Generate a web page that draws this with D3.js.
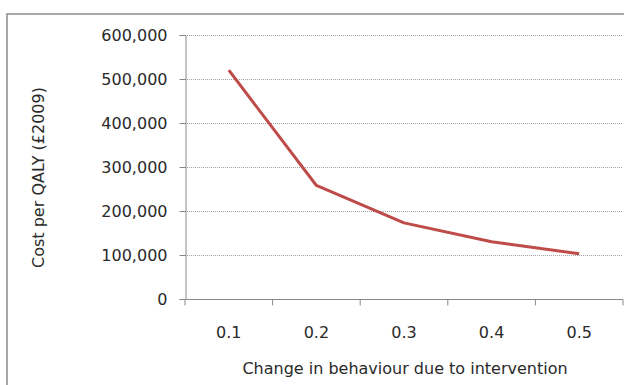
<!DOCTYPE html>
<html>
<head>
<meta charset="utf-8">
<script src="https://cdn.jsdelivr.net/npm/d3@7"></script>
<style>
  body { margin: 0; background: #fff; }
  svg text { font-family: "DejaVu Sans", sans-serif; fill: #2a2a2a; }
</style>
</head>
<body>
<div id="chart"></div>
<script>
const categories = ["0.1", "0.2", "0.3", "0.4", "0.5"];
const costPerQaly = [520000, 258000, 173000, 130000, 103000];
const yTicks = [0, 100000, 200000, 300000, 400000, 500000, 600000];

const width = 624, height = 385;
const plotLeft = 185, plotRight = 623, plotTop = 35, plotBottom = 299;
const fontSize = "16px";

const svg = d3.select("#chart").append("svg")
  .attr("width", width)
  .attr("height", height);

// outer frame
svg.append("rect")
  .attr("x", 7).attr("y", 14)
  .attr("width", 640).attr("height", 400)
  .attr("fill", "none")
  .attr("stroke", "#8c8c8c")
  .attr("stroke-width", 1.5);

const x = d3.scaleBand().domain(categories).range([plotLeft, plotRight]);
const y = d3.scaleLinear().domain([0, 600000]).range([plotBottom, plotTop]);

// gridlines
svg.append("g")
  .selectAll("line")
  .data(yTicks.filter(d => d > 0))
  .enter().append("line")
  .attr("x1", plotLeft).attr("x2", plotRight)
  .attr("y1", d => y(d) + 0.5).attr("y2", d => y(d) + 0.5)
  .attr("stroke", "#a0a0a0")
  .attr("stroke-dasharray", "1,1");

const yAxis = svg.append("g")
  .attr("transform", `translate(${plotLeft + 0.5},0)`)
  .call(d3.axisLeft(y).tickValues(yTicks).tickSize(6).tickPadding(12)
    .tickFormat(d3.format(",")));
yAxis.select(".domain").attr("stroke", "#888");
yAxis.selectAll(".tick line").attr("stroke", "#888");
yAxis.selectAll("text")
  .style("font-size", fontSize)
  .style("font-family", "DejaVu Sans")
  .attr("fill", "#2a2a2a");

// x axis: ticks at category boundaries
const xAxis = svg.append("g")
  .attr("transform", `translate(0,${plotBottom + 0.5})`);
xAxis.append("line")
  .attr("x1", plotLeft).attr("x2", plotRight)
  .attr("stroke", "#888");
const bounds = categories.map(c => x(c)).concat([x(categories[categories.length - 1]) + x.bandwidth()]);
xAxis.selectAll("line.tk")
  .data(bounds)
  .enter().append("line")
  .attr("class", "tk")
  .attr("x1", d => d).attr("x2", d => d)
  .attr("y1", 0).attr("y2", 6)
  .attr("stroke", "#888");
xAxis.selectAll("text")
  .data(categories)
  .enter().append("text")
  .attr("x", d => x(d) + x.bandwidth() / 2)
  .attr("y", 38)
  .attr("text-anchor", "middle")
  .style("font-size", fontSize)
  .text(d => d);

// line
const line = d3.line()
  .x((d, i) => x(categories[i]) + x.bandwidth() / 2)
  .y(d => y(d));
svg.append("path")
  .datum(costPerQaly)
  .attr("d", line)
  .attr("fill", "none")
  .attr("stroke", "#be4b48")
  .attr("stroke-width", 3)
  .attr("stroke-linejoin", "round");

// axis titles
svg.append("text")
  .attr("x", (plotLeft + plotRight) / 2 + 1)
  .attr("y", 374)
  .attr("text-anchor", "middle")
  .style("font-size", fontSize)
  .text("Change in behaviour due to intervention");

svg.append("text")
  .attr("transform", `translate(44,${(85 + 270) / 2}) rotate(-90)`)
  .attr("text-anchor", "middle")
  .style("font-size", fontSize)
  .text("Cost per QALY (£2009)");
</script>
</body>
</html>
